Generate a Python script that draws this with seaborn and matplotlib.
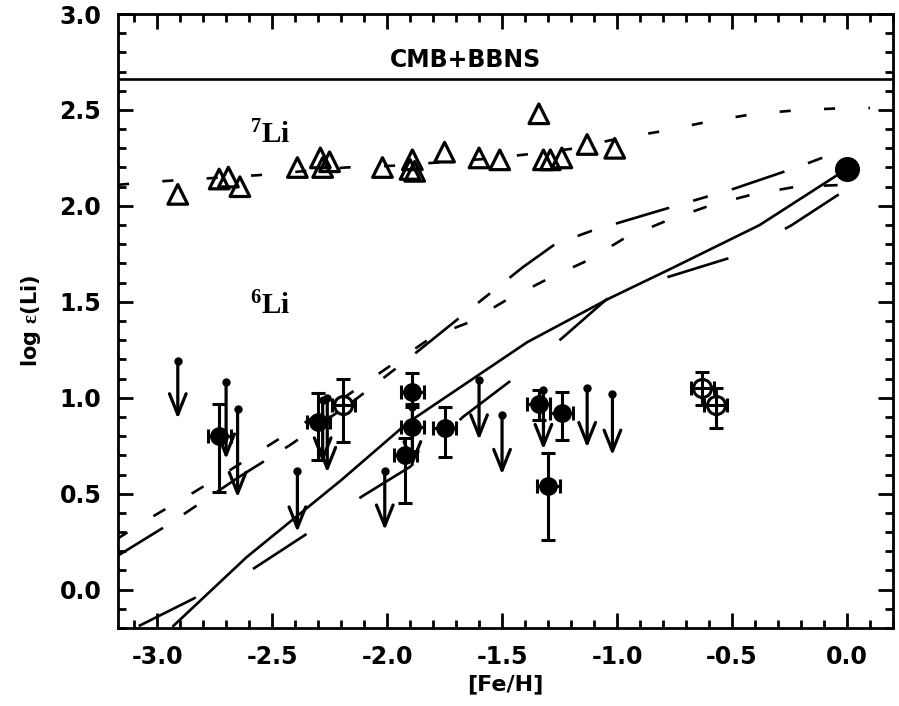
import numpy as np
import matplotlib
matplotlib.use('Agg')
import matplotlib.pyplot as plt
import seaborn as sns

# 7Li abundances (open triangles)
li7_feh = [-2.91, -2.73, -2.69, -2.64, -2.39, -2.29, -2.28, -2.25, -2.02, -1.90,
           -1.89, -1.88, -1.75, -1.60, -1.51, -1.34, -1.32, -1.29, -1.24, -1.13, -1.01]
li7_val = [2.06, 2.14, 2.15, 2.10, 2.20, 2.25, 2.20, 2.23, 2.20, 2.19,
           2.24, 2.18, 2.28, 2.25, 2.24, 2.48, 2.24, 2.24, 2.25, 2.32, 2.30]

# 6Li detections (filled circles)
li6_feh = [-2.73, -2.30, -1.89, -1.89, -1.92, -1.75, -1.34, -1.24, -1.30]
li6_val = [0.80, 0.875, 1.03, 0.85, 0.70, 0.84, 0.97, 0.92, 0.54]
li6_err_up = [0.17, 0.15, 0.10, 0.12, 0.09, 0.11, 0.07, 0.11, 0.17]
li6_err_lo = [0.29, 0.20, 0.08, 0.13, 0.25, 0.15, 0.085, 0.14, 0.28]
li6_xerr = 0.05

# 6Li detections (open circles with cross)
li6b_feh = [-2.19, -0.63, -0.57]
li6b_val = [0.96, 1.05, 0.96]
li6b_err_up = [0.14, 0.085, 0.09]
li6b_err_lo = [0.19, 0.09, 0.12]

# 6Li upper limits (arrows): top value, arrow tip
lim_feh = [-2.91, -2.70, -2.65, -2.39, -2.28, -2.26, -2.01, -1.89, -1.60, -1.50, -1.32, -1.13, -1.02]
lim_top = [1.19, 1.08, 0.94, 0.62, 0.99, 1.00, 0.62, 0.95, 1.09, 0.91, 1.04, 1.05, 1.02]
lim_tip = [0.89, 0.68, 0.48, 0.30, 0.66, 0.61, 0.31, 0.64, 0.78, 0.60, 0.73, 0.74, 0.70]

sun_feh, sun_val = 0.0, 2.19
cmb_li = 2.66

# model curves
c7_feh = [-3.17, -2.96, -2.56, -2.18, -1.96, -1.57, -1.38, -1.18, -1.0, -0.8, -0.6, -0.4, -0.2, 0.0, 0.1]
c7_val = [2.11, 2.13, 2.16, 2.20, 2.21, 2.245, 2.27, 2.30, 2.35, 2.39, 2.44, 2.48, 2.50, 2.51, 2.51]

ca_feh = [-3.18, -2.95, -2.64, -2.42, -2.16, -1.91, -1.63, -1.41, -1.27, -1.11, -0.83, -0.49, -0.22, -0.02]
ca_val = [0.17, 0.34, 0.59, 0.755, 0.97, 1.20, 1.47, 1.68, 1.80, 1.87, 1.97, 2.09, 2.20, 2.29]

cb_feh = [-3.18, -3.02, -2.85, -2.68, -2.51, -2.2, -1.8, -1.65, -1.48, -1.30, -1.12, -0.97, -0.79, -0.60, -0.41, -0.22, 0.0]
cb_val = [0.26, 0.38, 0.50, 0.625, 0.755, 0.99, 1.32, 1.39, 1.51, 1.62, 1.72, 1.83, 1.92, 2.00, 2.06, 2.10, 2.11]

cd_feh = [-2.93, -2.61, -2.20, -1.91, -1.65, -1.39, -1.03, -0.77, -0.38, -0.03]
cd_val = [-0.19, 0.17, 0.57, 0.87, 1.08, 1.29, 1.52, 1.67, 1.90, 2.17]

ce_feh = [-3.08, -2.83, -2.58, -2.35, -2.11, -1.90, -1.67, -1.45, -1.23, -1.02, -0.75, -0.48, -0.24, -0.01]
ce_val = [-0.19, -0.04, 0.11, 0.29, 0.485, 0.64, 0.90, 1.10, 1.32, 1.54, 1.64, 1.74, 1.90, 2.08]

sns.set_style('ticks')
plt.rcParams['font.family'] = ['DejaVu Sans']
plt.rcParams['font.weight'] = 'bold'
plt.rcParams['text.color'] = 'k'
plt.rcParams['axes.labelcolor'] = 'k'
plt.rcParams['axes.edgecolor'] = 'k'
plt.rcParams['xtick.color'] = 'k'
plt.rcParams['ytick.color'] = 'k'
plt.rcParams['lines.scale_dashes'] = False
plt.rcParams['mathtext.fontset'] = 'custom'
plt.rcParams['mathtext.rm'] = 'Liberation Serif:bold'
plt.rcParams['mathtext.it'] = 'Liberation Serif:bold'

fig = plt.figure(figsize=(8.99, 7.06), dpi=100)
ax = fig.add_axes([118 / 899, 1 - 628 / 706, (893 - 118) / 899, (628 - 14) / 706])

lw = 1.9
curves = [(c7_feh, c7_val, [8, 24]),
          (ca_feh, ca_val, [40, 18, 11, 18]),
          (cb_feh, cb_val, [10, 22]),
          (cd_feh, cd_val, None),
          (ce_feh, ce_val, [46, 46])]
for fx, fy, dash in curves:
    sns.lineplot(x=fx, y=fy, ax=ax, color='k', lw=lw, sort=False, estimator=None)
    if dash is not None:
        ax.lines[-1].set_dashes(dash)

ax.axhline(cmb_li, color='k', lw=lw)

sns.scatterplot(x=li7_feh, y=li7_val, ax=ax, marker='^', s=200,
                facecolor='none', edgecolor='k', linewidth=2.3, zorder=4)

ax.errorbar(li6_feh, li6_val, yerr=[li6_err_lo, li6_err_up], xerr=li6_xerr,
            fmt='o', color='k', ms=12.5, elinewidth=2.2, capsize=5, capthick=2.2, zorder=5)
ax.errorbar(li6b_feh, li6b_val, yerr=[li6b_err_lo, li6b_err_up], xerr=li6_xerr,
            fmt='o', color='k', mfc='white', ms=13, mew=2.2, elinewidth=2.2,
            capsize=5, capthick=2.2, zorder=5)
ax.plot(li6b_feh, li6b_val, '+', color='k', ms=13, mew=2.2, zorder=6)

for fx, top, tip in zip(lim_feh, lim_top, lim_tip):
    ax.annotate('', xy=(fx, tip), xytext=(fx, top),
                arrowprops=dict(arrowstyle='->,head_length=1.5,head_width=0.6',
                                lw=2.3, color='k', shrinkA=0, shrinkB=0))
ax.plot(lim_feh, lim_top, 'o', color='k', ms=5)

ax.plot([sun_feh], [sun_val], 'o', color='k', ms=17, zorder=6)

ax.text(-1.66, 2.76, 'CMB+BBNS', fontsize=17, fontweight='bold', ha='center', va='center')
ax.text(-2.51, 2.37, r'$^{7}$Li', fontsize=21, fontfamily='Liberation Serif',
        fontweight='bold', ha='center', va='center')
ax.text(-2.51, 1.48, r'$^{6}$Li', fontsize=21, fontfamily='Liberation Serif',
        fontweight='bold', ha='center', va='center')

ax.set_xlim(-3.17, 0.2)
ax.set_ylim(-0.2, 3.0)
ax.set_xticks(np.arange(-3.0, 0.01, 0.5))
ax.set_yticks(np.arange(0.0, 3.01, 0.5))
ax.set_xticks(np.arange(-3.1, 0.21, 0.1), minor=True)
ax.set_yticks(np.arange(-0.2, 3.01, 0.1), minor=True)
ax.xaxis.set_major_formatter(matplotlib.ticker.FormatStrFormatter('%.1f'))
ax.yaxis.set_major_formatter(matplotlib.ticker.FormatStrFormatter('%.1f'))
ax.tick_params(which='both', direction='in', top=True, right=True, width=2, labelsize=17)
ax.tick_params(which='major', length=11, pad=12)
ax.tick_params(which='minor', length=6)
for sp in ax.spines.values():
    sp.set_linewidth(2)
ax.set_xlabel('[Fe/H]', fontsize=16, fontweight='bold', labelpad=4)
ax.set_ylabel(r'log $\epsilon$(Li)', fontsize=15, fontweight='bold', labelpad=12)

fig.savefig('out.png', dpi=100)
